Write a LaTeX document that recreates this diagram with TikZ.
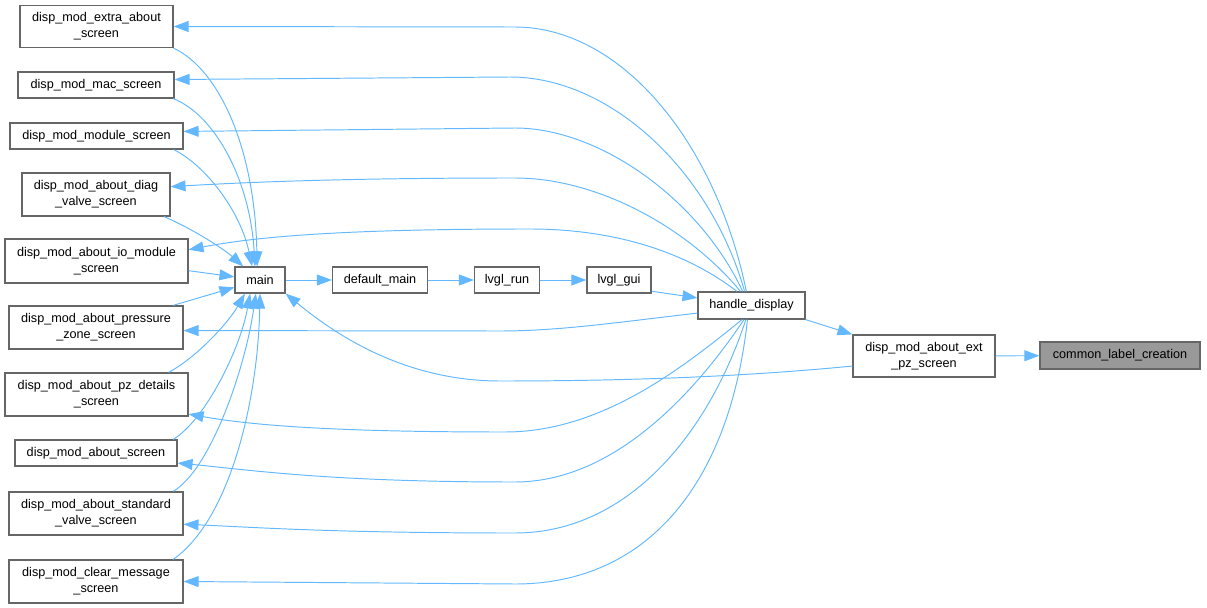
\documentclass[tikz,border=0pt]{standalone}
\usepackage{fontspec}
\setmainfont{Liberation Sans}
\usetikzlibrary{arrows.meta}
\definecolor{edgeblue}{HTML}{63B8FF}
\definecolor{boxgray}{HTML}{666666}
\definecolor{fillgray}{HTML}{999999}
\begin{document}
\begin{tikzpicture}[x=0.02cm, y=-0.02cm,
        fn/.style={draw=boxgray, fill=white, line width=0.7pt, align=center, inner sep=0pt, font=\fontsize{7.2}{9.1}\selectfont, minimum height=0.52cm},
        call/.style={draw=edgeblue, line width=0.55pt, -{Triangle[length=8.5pt, width=6.2pt]}}]
        \useasboundingbox (0,0) rectangle (1207,608);
        \node[fn, minimum width=3.06cm, minimum height=0.84cm] (extra) at (96.5,26.5) {disp\_mod\_extra\_about\\\_screen};
        \node[fn, minimum width=3.12cm] (mac) at (96,85) {disp\_mod\_mac\_screen};
        \node[fn, minimum width=3.46cm] (module) at (96.5,136) {disp\_mod\_module\_screen};
        \node[fn, minimum width=2.96cm, minimum height=0.86cm] (diag) at (96,194.5) {disp\_mod\_about\_diag\\\_valve\_screen};
        \node[fn, minimum width=3.66cm, minimum height=0.88cm] (io) at (96.5,261) {disp\_mod\_about\_io\_module\\\_screen};
        \node[fn, minimum width=3.48cm, minimum height=0.86cm] (pressure) at (96,327.5) {disp\_mod\_about\_pressure\\\_zone\_screen};
        \node[fn, minimum width=3.66cm, minimum height=0.86cm] (pzdet) at (96.5,394.5) {disp\_mod\_about\_pz\_details\\\_screen};
        \node[fn, minimum width=3.24cm] (about) at (96,453) {disp\_mod\_about\_screen};
        \node[fn, minimum width=3.48cm, minimum height=0.86cm] (standard) at (96,513.5) {disp\_mod\_about\_standard\\\_valve\_screen};
        \node[fn, minimum width=3.48cm, minimum height=0.86cm] (clear) at (96,581.5) {disp\_mod\_clear\_message\\\_screen};
        \node[fn, minimum width=1.0cm] (main) at (260,280) {main};
        \node[fn, minimum width=1.9cm] (defmain) at (380,280) {default\_main};
        \node[fn, minimum width=1.3cm] (run) at (507,280) {lvgl\_run};
        \node[fn, minimum width=1.28cm] (gui) at (619,280) {lvgl\_gui};
        \node[fn, minimum width=2.14cm, minimum height=0.54cm] (handle) at (751.5,305.5) {handle\_display};
        \node[fn, minimum width=2.84cm, minimum height=0.84cm] (extpz) at (924,356) {disp\_mod\_about\_ext\\\_pz\_screen};
        \node[fn, fill=fillgray, minimum width=3.2cm, minimum height=0.54cm] (common) at (1120,355.5) {common\_label\_creation};
        \draw[call] (main) -- (defmain);
        \draw[call] (defmain) -- (run);
        \draw[call] (run) -- (gui);
        \draw[call] (gui.-19) -- (handle.172);
        \draw[call] (handle.south east) -- (extpz.north west);
        \draw[call] (extpz) -- (common);
        \draw[call] (extpz.188) .. controls (760,375) and (650,381) .. (500,381) .. controls (400,381) and (330,330) .. (main.south east);
        \draw[call] (handle.110) .. controls (715,140) and (620,27) .. (515,27) -- (extra.east);
        \draw[call] (handle.116) .. controls (710,170) and (610,77) .. (510,77) -- (mac.4);
        \draw[call] (handle.122) .. controls (700,200) and (600,128) .. (515,128) -- (module.3);
        \draw[call] (handle.128) .. controls (690,230) and (600,178) .. (515,178) .. controls (350,178) and (250,182) .. (diag.6);
        \draw[call] (handle.136) .. controls (690,255) and (620,229) .. (530,229) .. controls (350,229) and (260,236) .. (io.7);
        \draw[call] (handle.188) .. controls (620,322) and (560,331) .. (500,331) -- (pressure.-2);
        \draw[call] (handle.236) .. controls (680,370) and (600,432) .. (505,432) .. controls (330,432) and (250,425) .. (pzdet.-12);
        \draw[call] (handle.242) .. controls (690,400) and (610,482) .. (515,482) .. controls (330,482) and (250,470) .. (about.-7);
        \draw[call] (handle.248) .. controls (710,430) and (630,533) .. (515,533) .. controls (330,533) and (250,527) .. (standard.-7);
        \draw[call] (handle.254) .. controls (730,480) and (650,584) .. (515,584) -- (clear.east);
        \draw[call] (extra.south east) .. controls (220,70) and (255,150) .. (main.102);
        \draw[call] (mac.-10) .. controls (215,115) and (250,180) .. (main.110);
        \draw[call] (module.-10) .. controls (205,165) and (240,210) .. (main.120);
        \draw[call] (diag.-18) .. controls (195,230) and (225,250) .. (main.141);
        \draw[call] (io.-6) -- (main.173);
        \draw[call] (pressure.16) -- (main.196);
        \draw[call] (pzdet.17) .. controls (200,355) and (230,320) .. (main.222);
        \draw[call] (about.10) .. controls (205,420) and (240,350) .. (main.234);
        \draw[call] (standard.16) .. controls (210,470) and (245,370) .. (main.253);
        \draw[call] (clear.16) .. controls (230,520) and (258,400) .. (main.south);
\end{tikzpicture}
\end{document}
